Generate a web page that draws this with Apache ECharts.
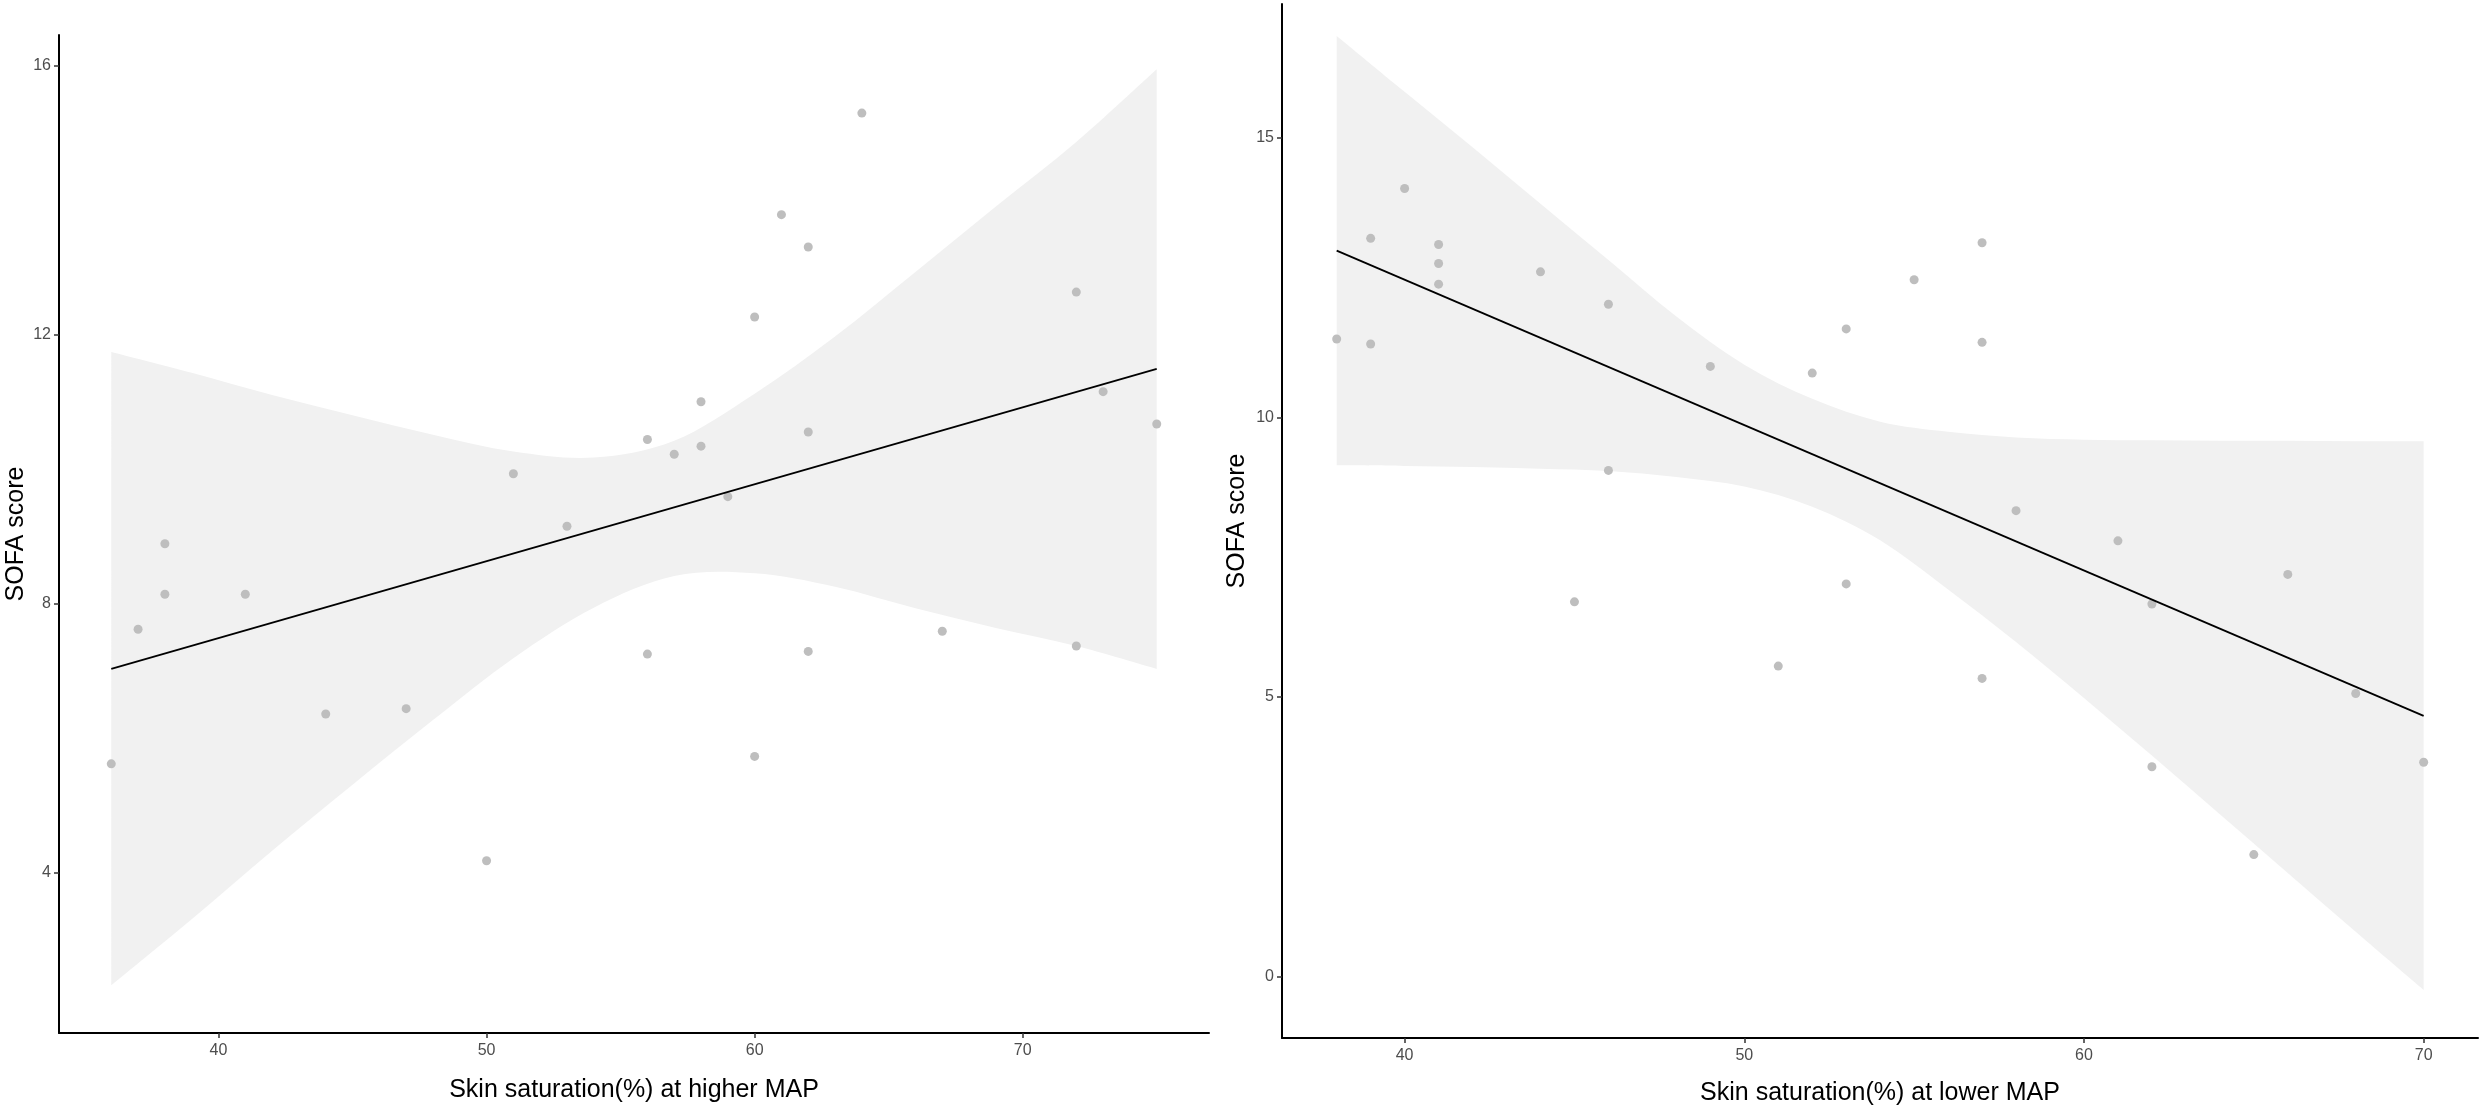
<!DOCTYPE html>
<html>
<head>
<meta charset="utf-8">
<script src="https://cdn.jsdelivr.net/npm/echarts@6/dist/echarts.min.js"></script>
<style>
html,body{margin:0;padding:0;background:#fff;}
#chart{width:2481px;height:1111px;}
</style>
</head>
<body>
<div id="chart"></div>
<script>
// ---------- Left panel: higher MAP ----------
const leftX = [36,37,38,38,41,44,47,50,51,53,56,56,57,58,58,59,60,60,61,62,62,62,64,67,72,72,73,75];
const leftY = [5.62,7.62,8.89,8.14,8.14,6.36,6.44,4.18,9.93,9.15,10.44,7.25,10.22,11.0,10.34,9.59,12.26,5.73,13.78,13.30,10.55,7.29,15.29,7.59,12.63,7.37,11.15,10.67];
const leftFitX = [36, 75];
const leftFitY = [7.03, 11.49];
const leftBandX = [36,39,42,45,48,51,54,57,60,63,66,69,72,75];
const leftUpper = [11.74,11.43,11.10,10.80,10.51,10.26,10.17,10.42,11.12,11.97,12.93,13.90,14.86,15.94];
const leftLower = [2.33,3.31,4.33,5.31,6.27,7.19,7.94,8.41,8.45,8.25,7.93,7.64,7.37,7.03];
const leftXTicks = [40,50,60,70];
const leftYTicks = [4,8,12,16];

// ---------- Right panel: lower MAP ----------
const rightX = [38,39,39,40,41,41,41,44,45,46,46,49,51,52,53,53,55,57,57,57,58,61,62,62,65,66,68,70];
const rightY = [11.40,13.20,11.31,14.09,13.09,12.75,12.38,12.60,6.70,12.02,9.05,10.91,5.55,10.79,11.58,7.02,12.46,13.12,11.34,5.33,8.33,7.79,6.66,3.75,2.18,7.19,5.06,3.83];
const rightFitX = [38, 70];
const rightFitY = [12.98, 4.66];
const rightBandX = [38,40,42,44,46,48,50,52,54,56,58,60,62,64,66,68,70];
const rightUpper = [16.82,15.82,14.83,13.82,12.81,11.80,10.94,10.33,9.92,9.74,9.64,9.60,9.59,9.58,9.58,9.57,9.57];
const rightLower = [9.14,9.13,9.11,9.08,9.04,8.93,8.76,8.40,7.80,6.92,5.98,4.98,3.95,2.90,1.85,0.80,-0.24];
const rightXTicks = [40,50,60,70];
const rightYTicks = [0,5,10,15];

const xTitles = ['Skin saturation(%) at higher MAP', 'Skin saturation(%) at lower MAP'];
const yTitle = 'SOFA score';

const FONT = "'Liberation Sans', Arial, sans-serif";
const zip = (a, b) => a.map((v, i) => [v, b[i]]);

function xAxisCfg(idx, min, max, ticks, title, gap) {
  return {
    type: 'value', gridIndex: idx, min: min, max: max,
    name: title, nameLocation: 'middle', nameGap: gap,
    nameTextStyle: { fontSize: 25, color: '#000', fontFamily: FONT },
    axisLine: { show: true, onZero: false, lineStyle: { color: '#000', width: 2 } },
    axisTick: { show: true, inside: false, length: 5, customValues: ticks, lineStyle: { color: '#333', width: 1.5 } },
    axisLabel: { show: true, customValues: ticks, fontSize: 16, color: '#4d4d4d', fontFamily: FONT, margin: 10 },
    splitLine: { show: false }
  };
}
function yAxisCfg(idx, min, max, ticks, gap) {
  return {
    type: 'value', gridIndex: idx, min: min, max: max,
    name: yTitle, nameLocation: 'middle', nameRotate: 90, nameGap: gap,
    nameTextStyle: { fontSize: 25, color: '#000', fontFamily: FONT },
    axisLine: { show: true, onZero: false, lineStyle: { color: '#000', width: 2 } },
    axisTick: { show: true, inside: false, length: 5, customValues: ticks, lineStyle: { color: '#333', width: 1.5 } },
    axisLabel: { show: true, customValues: ticks, fontSize: 16, color: '#4d4d4d', fontFamily: FONT, margin: 8 },
    splitLine: { show: false }
  };
}

// Catmull-Rom curve through pixel points -> SVG path segments (continuing from pts[0])
function crSegments(pts) {
  let d = '';
  for (let i = 0; i < pts.length - 1; i++) {
    const p0 = pts[i - 1] || pts[i], p1 = pts[i], p2 = pts[i + 1], p3 = pts[i + 2] || pts[i + 1];
    const c1x = p1[0] + (p2[0] - p0[0]) / 6, c1y = p1[1] + (p2[1] - p0[1]) / 6;
    const c2x = p2[0] - (p3[0] - p1[0]) / 6, c2y = p2[1] - (p3[1] - p1[1]) / 6;
    d += ' C' + c1x.toFixed(2) + ' ' + c1y.toFixed(2) + ' ' + c2x.toFixed(2) + ' ' + c2y.toFixed(2) + ' ' + p2[0].toFixed(2) + ' ' + p2[1].toFixed(2);
  }
  return d;
}

// Confidence band: mapped through the axis scales (api.coord), smooth edges
function bandSeries(idx, bx, lower, upper) {
  return {
    type: 'custom', xAxisIndex: idx, yAxisIndex: idx, silent: true, z: 1, clip: true,
    data: [[bx[0], lower[0]]],
    renderItem: function (params, api) {
      const up = bx.map((x, i) => api.coord([x, upper[i]]));
      const lo = bx.map((x, i) => api.coord([x, lower[i]])).reverse();
      let d = 'M' + up[0][0].toFixed(2) + ' ' + up[0][1].toFixed(2) + crSegments(up);
      d += ' L' + lo[0][0].toFixed(2) + ' ' + lo[0][1].toFixed(2) + crSegments(lo) + ' Z';
      return { type: 'path', shape: { pathData: d }, style: { fill: '#f1f1f1', stroke: null } };
    }
  };
}
function pointSeries(idx, xs, ys) {
  return { type: 'scatter', xAxisIndex: idx, yAxisIndex: idx, data: zip(xs, ys), symbol: 'circle', symbolSize: 9,
    itemStyle: { color: '#bebebe', opacity: 1 }, z: 3, silent: true };
}
function fitSeries(idx, xs, ys) {
  return { type: 'line', xAxisIndex: idx, yAxisIndex: idx, data: zip(xs, ys), symbol: 'none',
    lineStyle: { color: '#000', width: 1.8 }, z: 4, silent: true };
}

const chart = echarts.init(document.getElementById('chart'), null, { renderer: 'canvas' });
chart.setOption({
  animation: false,
  backgroundColor: '#fff',
  grid: [
    { left: 59, top: 35, width: 1150, height: 998, containLabel: false, outerBoundsMode: 'none' },
    { left: 1282, top: 4, width: 1196, height: 1034, containLabel: false, outerBoundsMode: 'none' }
  ],
  xAxis: [
    xAxisCfg(0, 34.05, 76.95, leftXTicks, xTitles[0], 45),
    xAxisCfg(1, 36.39, 71.6, rightXTicks, xTitles[1], 43)
  ],
  yAxis: [
    yAxisCfg(0, 1.62, 16.45, leftYTicks, 30),
    yAxisCfg(1, -1.1, 17.39, rightYTicks, 32)
  ],
  series: [
    bandSeries(0, leftBandX, leftLower, leftUpper),
    pointSeries(0, leftX, leftY),
    fitSeries(0, leftFitX, leftFitY),
    bandSeries(1, rightBandX, rightLower, rightUpper),
    pointSeries(1, rightX, rightY),
    fitSeries(1, rightFitX, rightFitY)
  ]
});
</script>
</body>
</html>
